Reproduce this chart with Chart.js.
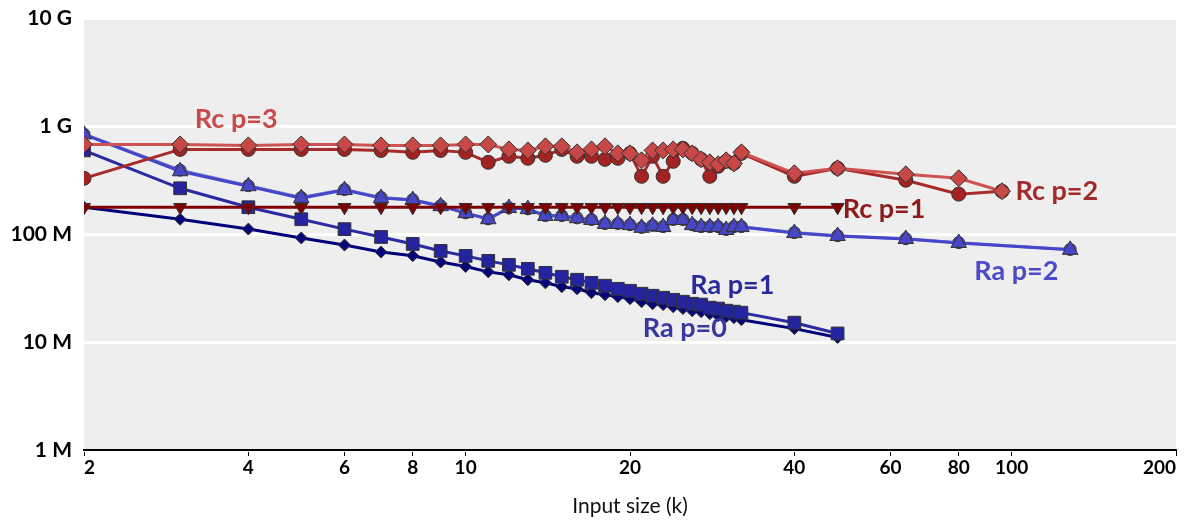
<!DOCTYPE html>
<html><head><meta charset="utf-8">
<script src="https://cdn.jsdelivr.net/npm/chart.js@4.4.0/dist/chart.umd.min.js"></script>
<style>html,body{margin:0;padding:0;background:#fff}</style>
</head><body>
<canvas id="c" width="1186" height="523" style="display:block;width:1186px;height:523px"></canvas>
<script>
// Input sizes (k)
const xA = [2,3,4,5,6,7,8,9,10,11,12,13,14,15,16,17,18,19,20,21,22,23,24,25,26,27,28,29,30,31,32,40,48];
const xB = [2,3,4,5,6,7,8,9,10,11,12,13,14,15,16,17,18,19,20,21,22,23,24,25,26,27,28,29,30,31,32,40,48,64,80,128];
const xC = [2,3,4,5,6,7,8,9,10,11,12,13,14,15,16,17,18,19,20,21,22,23,24,25,26,27,28,29,30,31,32,40,48,64,80,96];

// values in millions
const raP0 = [177,137,111,92,79,68,63,55,50,44.6,41.9,37.7,35.3,32.5,31.1,28.6,27.4,26.3,25.2,23.6,22.6,22.2,21.2,20.4,19.5,19.1,18.3,17.5,17.2,16.8,16.1,13.3,11.0];
const raP1 = [594,265,177,137,111,93.8,80.9,69.7,62.7,56.4,51.8,47.6,43.7,40.2,37.7,35.3,33.2,31.1,29.8,28.0,26.8,25.7,24.6,23.6,22.6,22.2,20.8,20.4,19.5,19.1,18.7,15.1,12.0];
const raP2 = [835,381,277,215,255,215,206,181,156,137,174,170,147,147,140,135,124,124,121,114,119,116,135,135,121,116,116,116,109,116,116,102,95.9,89.9,82.6,71.3];
const raP3 = [840,390,280,218,258,218,208,183,157,138,175,171,148,148,141,136,125,125,122,115,120,117,136,136,122,117,117,117,110,117,117,103,96.5,90.5,83.2,72.0];
const rcP1 = [177,177,177,177,177,177,177,177,177,177,177,177,177,177,177,177,177,177,177,177,177,177,177,177,177,177,177,177,177,177,177,177,177];
const rcP2 = [328,607,607,607,607,594,570,594,570,461,524,502,535,607,524,524,491,502,558,342,524,342,471,621,558,491,342,423,471,451,558,342,406,315,234,249];
const rcP3 = [675,675,661,675,675,661,661,661,675,675,607,594,648,648,570,607,648,558,558,481,594,594,607,607,558,491,461,442,481,451,570,365,406,357,328,249];

const xTickVals = [2,4,6,8,10,20,40,60,80,100,200];
const xTickLabels = ['2','4','6','8','10','20','40','60','80','100','200'];
const yTickVals = [1,10,100,1000,10000];
const yTickLabels = ['1 M','10 M','100 M','1 G','10 G'];

const seriesLabels = ['Rc p=3','Rc p=1','Rc p=2','Ra p=1','Ra p=0','Ra p=2'];
const labelX = [3.8, 58.4, 121, 30.8, 25.2, 102];
const labelY = [1150, 170, 249, 33.2, 13.3, 44.7];
const labelColors = ['#c84a4a','#8c1c1c','#a32a2a','#2a2a9c','#38389e','#4a4acb'];

const pts = (xs, ys) => xs.map((x, i) => ({x: x, y: ys[i]}));

const bgPlugin = {
  id: 'bg',
  beforeDraw(chart) {
    const {ctx, chartArea: a} = chart;
    ctx.save();
    ctx.fillStyle = '#eeeeee';
    ctx.fillRect(a.left, a.top, a.right - a.left, a.bottom - a.top);
    ctx.restore();
  }
};
const labelPlugin = {
  id: 'lbl',
  afterDatasetsDraw(chart) {
    const {ctx, scales: {x, y}} = chart;
    ctx.save();
    ctx.font = 'bold 27px Lato';
    ctx.textAlign = 'center';
    ctx.textBaseline = 'middle';
    seriesLabels.forEach((t, i) => {
      ctx.fillStyle = labelColors[i];
      ctx.fillText(t, x.getPixelForValue(labelX[i]), y.getPixelForValue(labelY[i]));
    });
    ctx.restore();
  }
};

function ds(label, data, line, fill, style, radius, extra) {
  return Object.assign({
    label, data, borderColor: line, backgroundColor: fill,
    pointBackgroundColor: fill, pointBorderColor: '#333333', pointBorderWidth: 1,
    pointStyle: style, pointRadius: radius, pointHoverRadius: radius,
    borderWidth: 3, tension: 0, fill: false
  }, extra || {});
}

new Chart(document.getElementById('c'), {
  type: 'line',
  data: {
    datasets: [
      ds('Rc p=1', pts(xA, rcP1), '#800000', '#7e0000', 'triangle', 7.5, {pointRotation: 180}),
      ds('Rc p=3', pts(xC, rcP3), '#cf5353', '#c84848', 'rectRot', 8.5),
      ds('Rc p=2', pts(xC, rcP2), '#a82a2a', '#a52222', 'circle', 7),
      ds('Ra p=2', pts(xB, raP2), '#4646cc', '#4646c6', 'triangle', 9),
      ds('Ra p=3', pts(xB, raP3), '#7878c4', '#5656b8', 'circle', 6),
      ds('Ra p=1', pts(xA, raP1), '#2a2aa2', '#2424a0', 'rect', 9),
      ds('Ra p=0', pts(xA, raP0), '#00007a', '#06067a', 'rectRot', 6)
    ]
  },
  options: {
    responsive: false,
    animation: false,
    events: [],
    layout: {padding: {top: 18, right: 10, left: 0, bottom: 0}},
    plugins: {legend: {display: false}, tooltip: {enabled: false}},
    scales: {
      x: {
        type: 'logarithmic', min: 2, max: 200,
        afterBuildTicks: (s) => { s.ticks = xTickVals.map(v => ({value: v})); },
        afterFit: (s) => { s.height = 73; s.paddingLeft = 0; s.paddingRight = 0; },
        grid: {display: true, drawOnChartArea: false, drawTicks: true, tickLength: 6, color: '#000', lineWidth: 1},
        border: {display: true, color: '#000', width: 2},
        ticks: {
          autoSkip: false, maxRotation: 0, align: 'inner', padding: 0,
          color: '#000', font: {family: 'Lato', size: 19, weight: 'bold'},
          callback: (v) => { const i = xTickVals.indexOf(v); return i >= 0 ? xTickLabels[i] : ''; }
        },
        title: {display: true, text: 'Input size (k)', color: '#111', font: {family: 'Lato', size: 21}, padding: {top: 0, bottom: 4}}
      },
      y: {
        type: 'logarithmic', min: 1, max: 10000,
        afterBuildTicks: (s) => { s.ticks = yTickVals.map(v => ({value: v})); },
        afterFit: (s) => { s.width = 84; s.paddingTop = 0; s.paddingBottom = 0; },
        grid: {color: '#ffffff', lineWidth: 3, drawTicks: false},
        border: {display: false},
        ticks: {
          padding: 12, color: '#000', font: {family: 'Lato', size: 21, weight: 'bold'},
          callback: (v) => { const i = yTickVals.indexOf(v); return i >= 0 ? yTickLabels[i] : ''; }
        }
      }
    }
  },
  plugins: [bgPlugin, labelPlugin]
});
</script>
</body></html>
